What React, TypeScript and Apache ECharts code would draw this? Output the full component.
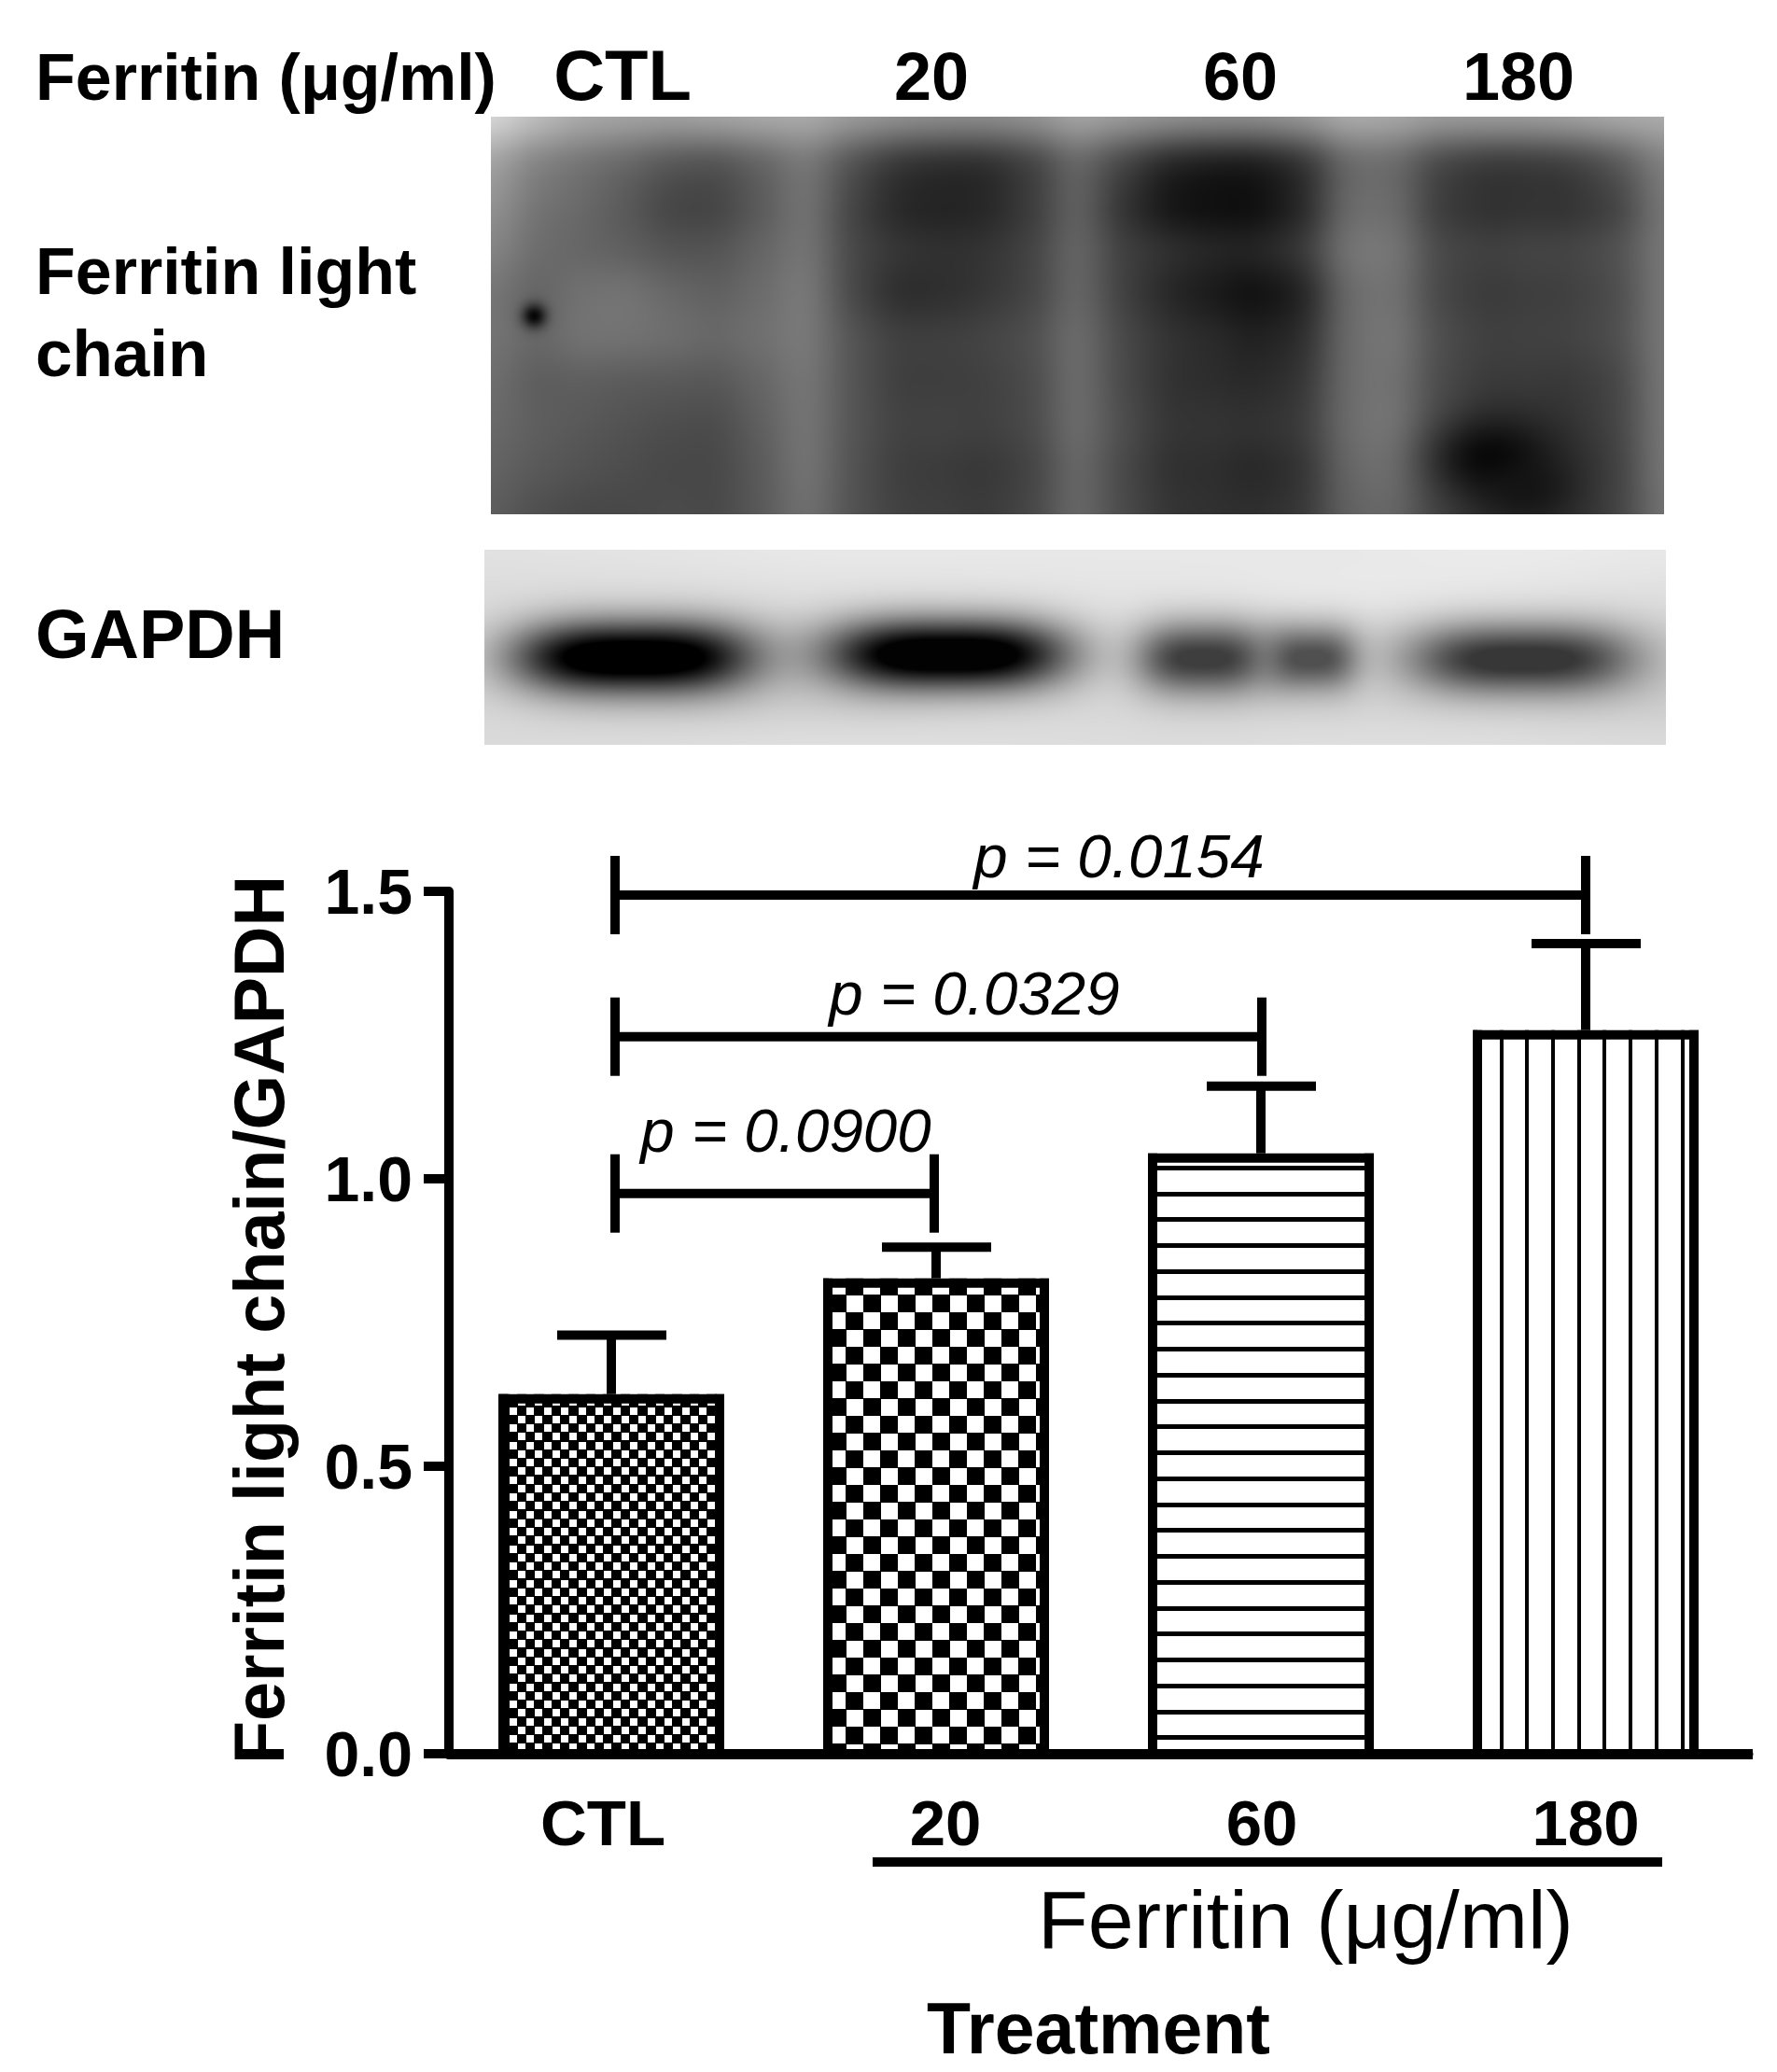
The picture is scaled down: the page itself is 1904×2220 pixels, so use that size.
import React, { useEffect, useRef } from "react";
import * as echarts from "echarts";

const FONT = "'Liberation Sans', Arial, sans-serif";

// ---- chart data
const categories = ["CTL", "20", "60", "180"];
const barMeans = [0.6255, 0.8268, 1.0443, 1.2586];
const barUppers = [0.728, 0.881, 1.161, 1.409];
const yTicks = { min: 0, max: 1.5, interval: 0.5 };
const bracketStart = [0, 0, 0];
const bracketEnd = [3, 2, 1];
const bracketLevel = [1.4935, 1.2472, 0.9745];
const bracketEndNudge = [0, 1, -2];
const pLabels = ["p = 0.0154", "p = 0.0329", "p = 0.0900"];

// ---- blot intensities, coarse grey levels
const blotTopGrey = [
  [215,185,165,160,155,160,165,170,150,140,135,135,140,165,150,140,135,135,145,170,165,150,150,150,155,165,170],
  [165,125,115,105,90,85,100,125,85,62,55,55,70,112,75,48,40,40,55,110,110,75,65,65,70,90,130],
  [150,115,110,95,75,75,95,125,75,52,48,52,68,112,60,35,30,30,48,115,115,68,60,62,62,72,125],
  [135,110,105,100,90,90,105,125,78,68,62,65,75,115,72,65,55,55,68,125,125,80,76,80,80,88,125],
  [120,100,118,120,108,100,110,130,78,55,58,66,75,115,72,52,40,30,42,115,120,78,68,72,74,82,125],
  [120,105,120,118,115,108,115,128,90,75,75,80,85,120,80,65,58,48,55,115,125,85,75,76,78,85,125],
  [115,95,100,95,95,92,105,125,90,72,72,75,80,120,80,62,58,55,62,115,120,82,70,70,68,76,125],
  [110,100,95,90,85,82,100,125,90,76,78,75,80,120,85,65,66,64,68,115,125,84,65,62,65,76,125],
  [105,95,90,85,80,80,95,125,88,72,70,66,74,115,80,60,60,52,60,110,120,78,60,55,60,72,125],
  [100,85,80,80,85,80,95,120,88,75,74,70,78,115,82,65,62,60,65,105,110,76,60,55,60,75,120],
];
const blotTopSpots = [
  { x: 46, y: 213, rx: 13, ry: 13, grey: 5, k: 1 },
  { x: 1072, y: 365, rx: 62, ry: 42, grey: 8, k: 1 },
  { x: 1110, y: 400, rx: 45, ry: 30, grey: 18, k: 0.8 },
];
const blotBottomGrey = [
  [225,228,232,232,232,232,235,232],
  [220,220,222,225,228,230,228,222],
  [215,205,200,210,215,205,208,205],
  [215,208,205,215,215,210,212,205],
  [218,220,222,222,220,222,222,218],
];
const blotBottomBands = [
  { x: 160, y: 115, rx: 128, ry: 38, grey: 0, k: 1.22 },
  { x: 496, y: 112, rx: 128, ry: 37, grey: 2, k: 1.22 },
  { x: 770, y: 116, rx: 72, ry: 38, grey: 62, k: 1.05 },
  { x: 885, y: 116, rx: 50, ry: 34, grey: 80, k: 1.05 },
  { x: 1112, y: 117, rx: 120, ry: 37, grey: 55, k: 1.1 },
];

// ---- image helpers
function softened(m: number[][]) {
  const at = (r: number, c: number) => m[Math.max(0, Math.min(m.length - 1, r))][Math.max(0, Math.min(m[0].length - 1, c))];
  const deepen = (g: number) => (g < 128 ? g - 0.2 * (128 - g) : g);
  return m.map((row, r) =>
    row.map((_, c) => {
      const h = (rr: number) => 0.15 * at(rr, c - 1) + 0.7 * at(rr, c) + 0.15 * at(rr, c + 1);
      return deepen(r === 0 ? h(0) : 0.12 * h(r - 1) + 0.76 * h(r) + 0.12 * h(r + 1));
    })
  );
}
function cubic(a: number, b: number, c: number, d: number, t: number) {
  return b + 0.5 * t * (c - a + t * (2 * a - 5 * b + 4 * c - d + t * (3 * (b - c) + d - a)));
}
function sampleGrid(m: number[][], u: number, v: number) {
  const rows = m.length, cols = m[0].length;
  const fx = u * (cols - 1), fy = v * (rows - 1);
  const ix = Math.min(Math.floor(fx), cols - 2), iy = Math.min(Math.floor(fy), rows - 2);
  const tx = fx - ix, ty = fy - iy;
  const at = (r: number, c: number) => m[Math.max(0, Math.min(rows - 1, r))][Math.max(0, Math.min(cols - 1, c))];
  const col: number[] = [];
  for (let r = -1; r <= 2; r++) col.push(cubic(at(iy + r, ix - 1), at(iy + r, ix), at(iy + r, ix + 1), at(iy + r, ix + 2), tx));
  return cubic(col[0], col[1], col[2], col[3], ty);
}
function renderGrey(w: number, h: number, fn: (x: number, y: number) => number) {
  const c = document.createElement("canvas");
  c.width = w; c.height = h;
  const ctx = c.getContext("2d")!;
  const img = ctx.createImageData(w, h);
  for (let y = 0; y < h; y++) for (let x = 0; x < w; x++) {
    const g = Math.max(0, Math.min(255, fn(x, y)));
    const i = (y * w + x) * 4;
    img.data[i] = img.data[i + 1] = img.data[i + 2] = g;
    img.data[i + 3] = 255;
  }
  ctx.putImageData(img, 0, 0);
  return c.toDataURL("image/png");
}
function makeTopBlot(w: number, h: number) {
  const grid = softened(blotTopGrey);
  return renderGrey(w, h, (x, y) => {
    let g = sampleGrid(grid, x / (w - 1), y / (h - 1));
    for (const s of blotTopSpots) {
      const d = ((x - s.x) / s.rx) ** 2 + ((y - s.y) / s.ry) ** 2;
      if (d < 12) g += (s.grey - g) * s.k * Math.exp(-d);
    }
    return g;
  });
}
function makeBottomBlot(w: number, h: number) {
  return renderGrey(w, h, (x, y) => {
    let g = sampleGrid(blotBottomGrey, x / (w - 1), y / (h - 1));
    for (const b of blotBottomBands) {
      const d = Math.abs((x - b.x) / b.rx) ** 3 + ((y - b.y) / b.ry) ** 2;
      if (d < 12) g += (b.grey - g) * Math.min(1, b.k * Math.exp(-d));
    }
    return g;
  });
}

// ---- bar fills
function tile(w: number, h: number, paint: (c: CanvasRenderingContext2D) => void) {
  const c = document.createElement("canvas");
  c.width = w; c.height = h;
  const ctx = c.getContext("2d")!;
  paint(ctx);
  return c.toDataURL("image/png");
}
function checker(size: number, cell: number, x: number, y: number) {
  const half = Math.round(size / 2);
  const image = tile(size, size, (c) => {
    c.fillStyle = "#000"; c.fillRect(0, 0, size, size);
    c.fillStyle = "#fff";
    c.fillRect(0, 0, cell, cell);
    c.fillRect(half, half, cell, cell);
  });
  return { image, repeat: "repeat", imageWidth: size, imageHeight: size, x, y };
}
function smallChecker(x: number, y: number) {
  const size = 37, starts = [0, 9, 18, 28];
  const image = tile(size, size, (c) => {
    c.fillStyle = "#000"; c.fillRect(0, 0, size, size);
    c.fillStyle = "#fff";
    for (let i = 0; i < 4; i++) for (let j = 0; j < 4; j++) {
      if ((i + j) % 2 === 0) c.fillRect(starts[i], starts[j], 8, 8);
    }
  });
  return { image, repeat: "repeat", imageWidth: size, imageHeight: size, x, y };
}
function hLines(y: number) {
  const size = 111, tops = [0, 28, 56, 83];
  const image = tile(4, size, (c) => {
    c.fillStyle = "#fff"; c.fillRect(0, 0, 4, size);
    c.fillStyle = "#000";
    tops.forEach((t) => c.fillRect(0, t, 4, 5));
  });
  return { image, repeat: "repeat", imageWidth: 4, imageHeight: size, x: 0, y };
}
function vLines(x: number) {
  const size = 277;
  const image = tile(size, 4, (c) => {
    c.fillStyle = "#fff"; c.fillRect(0, 0, size, 4);
    c.fillStyle = "#000";
    for (let k = 0; k < 10; k++) c.fillRect(Math.round(k * 27.7), 0, 4, 4);
  });
  return { image, repeat: "repeat", imageWidth: size, imageHeight: 4, x, y: 0 };
}

function txt(text: string, x: number, baseline: number, size: number, opts: any = {}) {
  return {
    type: "text",
    x,
    y: baseline - 0.3465 * size,
    silent: true,
    style: {
      text,
      fill: "#000",
      font: `${opts.italic ? "italic " : ""}${opts.regular ? "normal" : "bold"} ${size}px ${FONT}`,
      align: opts.align || "left",
      verticalAlign: "middle",
    },
  };
}

export default function App() {
  const ref = useRef<HTMLDivElement>(null);
  useEffect(() => {
    const chart = echarts.init(ref.current!, undefined, { renderer: "svg" });
    const fills = [smallChecker(548, 1508), checker(37, 18, 924, 1412), hLines(1264), vLines(1607)];
    const rect = (x: number, y: number, w: number, h: number) => ({
      type: "rect",
      shape: { x, y, width: w, height: h },
      style: { fill: "#000" },
    });
    chart.setOption({
      animation: false,
      backgroundColor: "#fff",
      grid: { left: 481, top: 955, width: 1392, height: 924, containLabel: false },
      xAxis: {
        type: "category",
        z: 8,
        data: [
          { value: categories[0], textStyle: { padding: [0, 18, 0, 0] } },
          { value: categories[1], textStyle: { padding: [0, 0, 0, 20] } },
          { value: categories[2], textStyle: { padding: [0, 0, 0, 2] } },
          { value: categories[3] },
        ],
        axisLine: { lineStyle: { color: "#000", width: 11 } },
        axisTick: { alignWithLabel: true, length: 27, lineStyle: { color: "#000", width: 10 } },
        axisLabel: { color: "#000", fontFamily: FONT, fontWeight: "bold", fontSize: 69, margin: 40, interval: 0 },
        name: "Treatment",
        nameLocation: "middle",
        nameGap: 255,
        nameTextStyle: { color: "#000", fontFamily: FONT, fontWeight: "bold", fontSize: 77 },
      },
      yAxis: {
        type: "value",
        min: yTicks.min,
        max: yTicks.max,
        interval: yTicks.interval,
        splitLine: { show: false },
        axisLine: { show: true, lineStyle: { color: "#000", width: 10 } },
        axisTick: { show: true, length: 27, lineStyle: { color: "#000", width: 10 } },
        axisLabel: {
          color: "#000", fontFamily: FONT, fontWeight: "bold", fontSize: 68, margin: 39,
          padding: [0, 0, 7, 0],
          formatter: (v: number) => v.toFixed(1),
        },
        name: "Ferritin light chain/GAPDH",
        nameLocation: "middle",
        nameGap: 165,
        nameTextStyle: { color: "#000", fontFamily: FONT, fontWeight: "bold", fontSize: 75.5, padding: [0, 0, 0, 6] },
      },
      series: [
        {
          type: "bar",
          z: 2,
          barWidth: 242,
          data: barMeans.map((v, i) => ({
            value: v,
            itemStyle: { color: fills[i] },
          })),
        },
        {
          type: "custom",
          z: 6,
          data: barMeans.map((v, i) => [i, v, barUppers[i]]),
          encode: { x: 0, y: [1, 2] },
          renderItem: (_: any, api: any) => {
            const base = api.coord([api.value(0), api.value(1)]);
            const top = api.coord([api.value(0), api.value(2)]);
            const floor = api.coord([api.value(0), 0]);
            const x = base[0];
            const barH = floor[1] - base[1];
            return {
              type: "group",
              children: [
                rect(x - 121, base[1], 10, barH),
                rect(x + 111, base[1], 10, barH),
                rect(x - 121, base[1], 242, 10),
                rect(x - 5, top[1], 10, base[1] - top[1]),
                rect(x - 58, top[1] - 5, 117, 10),
              ],
            };
          },
        },
        {
          type: "custom",
          z: 6,
          data: bracketLevel.map((v, i) => [bracketStart[i], bracketEnd[i], v, bracketEndNudge[i]]),
          encode: { x: [0, 1], y: 2 },
          renderItem: (_: any, api: any) => {
            const a = api.coord([api.value(0), api.value(2)]);
            const b = api.coord([api.value(1), api.value(2)]);
            const left = a[0] + 4;
            const right = b[0] + api.value(3);
            const y = a[1];
            return {
              type: "group",
              children: [
                rect(left - 5, y - 42, 10, 84),
                rect(right - 5, y - 42, 10, 84),
                rect(left, y - 5, right - left, 10),
              ],
            };
          },
        },
      ],
      graphic: [
        { type: "image", silent: true, style: { image: makeTopBlot(1257, 426), x: 526, y: 125, width: 1257, height: 426 } },
        { type: "image", silent: true, style: { image: makeBottomBlot(1266, 209), x: 519, y: 589, width: 1266, height: 209 } },
        txt("Ferritin (μg/ml)", 38, 107, 70),
        txt(categories[0], 667, 107, 76, { align: "center" }),
        txt(categories[1], 998, 107, 72, { align: "center" }),
        txt(categories[2], 1329, 107, 72, { align: "center" }),
        txt(categories[3], 1627, 107, 72, { align: "center" }),
        txt("Ferritin light", 38, 315, 70),
        txt("chain", 38, 403, 71),
        txt("GAPDH", 38, 705, 74),
        txt(pLabels[0], 1199, 940, 65.5, { italic: true, regular: true, align: "center" }),
        txt(pLabels[1], 1044, 1087, 65.5, { italic: true, regular: true, align: "center" }),
        txt(pLabels[2], 842, 1234, 65.5, { italic: true, regular: true, align: "center" }),
        { type: "rect", silent: true, shape: { x: 1873, y: 1874, width: 5, height: 11 }, style: { fill: "#000" } },
        { type: "rect", silent: true, shape: { x: 935, y: 1990, width: 846, height: 10 }, style: { fill: "#000" } },
        txt("Ferritin (μg/ml)", 1112, 2087, 88, { regular: true }),
      ],
    });
    return () => chart.dispose();
  }, []);
  return <div ref={ref} style={{ position: "absolute", left: 0, top: 0, width: 1904, height: 2220 }} />;
}
